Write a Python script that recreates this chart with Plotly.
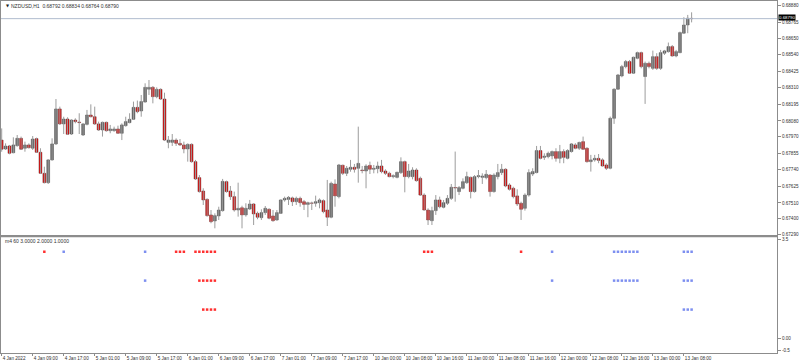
import plotly.graph_objects as go

# ---------------- data (NZDUSD H1) ----------------
opens = [0.67947,0.67885,0.67906,0.67859,0.67908,0.67959,0.67890,0.67913,0.67890,0.67957,
0.67862,0.67716,0.67651,0.67809,0.67920,0.68163,0.68059,0.68093,0.67989,0.68086,
0.68072,0.67982,0.68056,0.68121,0.68109,0.68059,0.68017,0.68070,0.68012,0.68012,
0.68024,0.67994,0.68047,0.68068,0.68091,0.68174,0.68149,0.68211,0.68300,0.68313,
0.68248,0.68299,0.68232,0.67931,0.67931,0.67947,0.67924,0.67913,0.67885,0.67917,
0.67797,0.67686,0.67593,0.67535,0.67427,0.67385,0.67420,0.67457,0.67658,0.67593,
0.67554,0.67461,0.67477,0.67427,0.67468,0.67503,0.67438,0.67408,0.67443,0.67466,
0.67420,0.67392,0.67438,0.67531,0.67535,0.67545,0.67519,0.67542,0.67519,0.67500,
0.67510,0.67508,0.67512,0.67526,0.67461,0.67411,0.67642,0.67554,0.67772,0.67716,
0.67744,0.67758,0.67751,0.67739,0.67732,0.67771,0.67744,0.67748,0.67767,0.67732,
0.67716,0.67693,0.67688,0.67721,0.67797,0.67693,0.67693,0.67739,0.67681,0.67565,
0.67461,0.67387,0.67457,0.67531,0.67480,0.67508,0.67542,0.67617,0.67589,0.67612,
0.67651,0.67688,0.67589,0.67693,0.67688,0.67686,0.67704,0.67589,0.67693,0.67721,
0.67744,0.67635,0.67612,0.67559,0.67508,0.67473,0.67565,0.67711,0.67721,0.67874,
0.67827,0.67832,0.67837,0.67867,0.67820,0.67867,0.67820,0.67867,0.67913,0.67890,
0.67936,0.67890,0.67797,0.67809,0.67820,0.67809,0.67774,0.67751,0.68098,0.68300,
0.68392,0.68457,0.68492,0.68411,0.68515,0.68554,0.68388,0.68480,0.68445,0.68526,
0.68445,0.68550,0.68561,0.68596,0.68531,0.68554,0.68689,0.68746,0.68792]

highs = [0.68028,0.67924,0.67913,0.67966,0.67982,0.67971,0.67936,0.67924,0.67975,0.67964,
0.67890,0.67762,0.67813,0.67959,0.68232,0.68179,0.68109,0.68105,0.68091,0.68098,
0.68133,0.68063,0.68156,0.68195,0.68179,0.68075,0.68075,0.68075,0.68052,0.68040,
0.68047,0.68063,0.68109,0.68133,0.68214,0.68221,0.68260,0.68341,0.68364,0.68322,
0.68313,0.68306,0.68276,0.67975,0.67989,0.67959,0.67954,0.67936,0.67924,0.67924,
0.67809,0.67704,0.67612,0.67542,0.67461,0.67438,0.67484,0.67677,0.67665,0.67628,
0.67589,0.67651,0.67491,0.67508,0.67531,0.67508,0.67450,0.67466,0.67489,0.67473,
0.67461,0.67461,0.67535,0.67554,0.67558,0.67554,0.67554,0.67554,0.67531,0.67519,
0.67519,0.67561,0.67542,0.67535,0.67670,0.67658,0.67674,0.67781,0.67776,0.67767,
0.67809,0.67781,0.68040,0.67767,0.67779,0.67797,0.67774,0.67797,0.67809,0.67744,
0.67727,0.67709,0.67727,0.67827,0.67804,0.67781,0.67758,0.67751,0.67693,0.67577,
0.67473,0.67484,0.67565,0.67554,0.67531,0.67565,0.67642,0.67867,0.67628,0.67681,
0.67727,0.67693,0.67704,0.67739,0.67716,0.67739,0.67711,0.67716,0.67781,0.67781,
0.67751,0.67647,0.67623,0.67605,0.67519,0.67577,0.67744,0.67751,0.67906,0.67906,
0.67855,0.67867,0.67874,0.67890,0.67913,0.67883,0.67883,0.67925,0.67925,0.67936,
0.67971,0.67897,0.67844,0.67844,0.67850,0.67820,0.67786,0.68110,0.68307,0.68406,
0.68469,0.68503,0.68503,0.68526,0.68561,0.68561,0.68492,0.68492,0.68568,0.68550,
0.68573,0.68573,0.68624,0.68607,0.68573,0.68700,0.68800,0.68816,0.68834]

lows = [0.67866,0.67878,0.67848,0.67855,0.67901,0.67878,0.67866,0.67888,0.67878,0.67859,
0.67711,0.67646,0.67642,0.67804,0.67913,0.68052,0.67989,0.67982,0.67982,0.68063,
0.67989,0.67975,0.68049,0.68105,0.68052,0.68010,0.67971,0.68005,0.67994,0.68005,
0.67989,0.67947,0.68040,0.68063,0.68086,0.68133,0.68109,0.68207,0.68260,0.68202,
0.68237,0.68225,0.67940,0.67890,0.67906,0.67906,0.67906,0.67855,0.67797,0.67790,
0.67670,0.67582,0.67496,0.67415,0.67369,0.67334,0.67392,0.67450,0.67582,0.67531,
0.67450,0.67415,0.67334,0.67415,0.67461,0.67357,0.67397,0.67392,0.67427,0.67397,
0.67380,0.67387,0.67434,0.67519,0.67496,0.67489,0.67496,0.67484,0.67461,0.67411,
0.67461,0.67484,0.67473,0.67438,0.67350,0.67404,0.67484,0.67542,0.67704,0.67697,
0.67727,0.67721,0.67651,0.67716,0.67612,0.67711,0.67716,0.67716,0.67716,0.67704,
0.67688,0.67681,0.67681,0.67711,0.67584,0.67681,0.67674,0.67658,0.67559,0.67457,
0.67357,0.67357,0.67427,0.67473,0.67473,0.67496,0.67531,0.67519,0.67565,0.67605,
0.67642,0.67542,0.67582,0.67681,0.67642,0.67674,0.67554,0.67582,0.67674,0.67704,
0.67619,0.67596,0.67542,0.67489,0.67392,0.67457,0.67554,0.67697,0.67716,0.67813,
0.67809,0.67820,0.67813,0.67797,0.67786,0.67786,0.67813,0.67860,0.67883,0.67878,
0.67878,0.67790,0.67728,0.67797,0.67786,0.67763,0.67739,0.67744,0.68059,0.68295,
0.68383,0.68445,0.68406,0.68406,0.68508,0.68445,0.68198,0.68445,0.68434,0.68434,
0.68434,0.68538,0.68554,0.68526,0.68522,0.68550,0.68684,0.68689,0.68764]

closes = [0.67883,0.67905,0.67855,0.67913,0.67959,0.67883,0.67913,0.67894,0.67954,0.67862,
0.67716,0.67651,0.67809,0.67920,0.68163,0.68059,0.68093,0.67987,0.68086,0.68075,
0.68068,0.68059,0.68121,0.68109,0.68059,0.68017,0.68070,0.68012,0.68024,0.68024,
0.67994,0.68052,0.68075,0.68091,0.68174,0.68144,0.68214,0.68313,0.68313,0.68248,
0.68299,0.68232,0.67947,0.67947,0.67947,0.67924,0.67913,0.67885,0.67917,0.67797,
0.67677,0.67589,0.67531,0.67422,0.67380,0.67422,0.67461,0.67660,0.67589,0.67554,
0.67461,0.67473,0.67427,0.67473,0.67503,0.67434,0.67411,0.67443,0.67473,0.67404,
0.67387,0.67443,0.67531,0.67542,0.67549,0.67519,0.67542,0.67512,0.67500,0.67512,
0.67508,0.67519,0.67531,0.67450,0.67411,0.67646,0.67559,0.67774,0.67716,0.67751,
0.67758,0.67744,0.67785,0.67735,0.67767,0.67744,0.67751,0.67767,0.67728,0.67716,
0.67693,0.67700,0.67723,0.67797,0.67693,0.67732,0.67739,0.67665,0.67565,0.67461,
0.67392,0.67457,0.67531,0.67484,0.67512,0.67542,0.67619,0.67614,0.67617,0.67658,
0.67693,0.67589,0.67693,0.67700,0.67697,0.67709,0.67589,0.67704,0.67721,0.67744,
0.67628,0.67605,0.67554,0.67503,0.67466,0.67565,0.67721,0.67728,0.67874,0.67820,
0.67835,0.67855,0.67867,0.67820,0.67867,0.67827,0.67874,0.67920,0.67890,0.67930,
0.67883,0.67797,0.67809,0.67820,0.67806,0.67767,0.67751,0.68098,0.68300,0.68399,
0.68457,0.68492,0.68411,0.68522,0.68554,0.68457,0.68480,0.68457,0.68526,0.68445,
0.68554,0.68566,0.68596,0.68531,0.68561,0.68693,0.68746,0.68793,0.68790]

bid_price = 0.68790
header_text = "NZDUSD,H1  0.68792 0.68834 0.68764 0.68790"
sub_label = "m4 60 3.0000 2.0000 1.0000"

price_ticks = [0.68880,0.68765,0.68650,0.68540,0.68425,0.68310,0.68195,0.68080,
               0.67970,0.67855,0.67740,0.67625,0.67510,0.67400,0.67290]

time_tick_bars = [0,8,16,24,32,40,48,56,64,72,80,88,96,104,112,120,128,136,144,152,160,168,176]
time_tick_labels = ["4 Jan 2022","4 Jan 09:00","4 Jan 17:00","5 Jan 01:00","5 Jan 09:00",
                    "5 Jan 17:00","6 Jan 01:00","6 Jan 09:00","6 Jan 17:00","7 Jan 01:00",
                    "7 Jan 09:00","7 Jan 17:00","10 Jan 00:00","10 Jan 08:00","10 Jan 16:00",
                    "11 Jan 00:00","11 Jan 08:00","11 Jan 16:00","12 Jan 00:00","12 Jan 08:00",
                    "12 Jan 16:00","13 Jan 00:00","13 Jan 08:00"]

# indicator "m4" signals: bar index lists for levels 3, 2, 1
lvl3_red = [11,45,46,47,50,51,52,53,54,55,109,110,111,134]
lvl3_blue = [16,37,142,158,159,160,161,162,163,164,176,177,178]
lvl2_red = [51,52,53,54,55]
lvl2_blue = [37,142,158,159,160,161,162,163,164,176,177,178]
lvl1_red = [52,53,54,55]
lvl1_blue = [176,177,178]

# sub-window scale labels (MT4 prints the range limits just inside the window)
sub_tick_vals = [3.42, 0, -0.42]
sub_tick_text = ["3.5", "0.00", "-0.5"]

# ---------------- figure ----------------
FONT = "Liberation Sans"
TXT = "#303030"
AX = "#8c8c8c"
n = len(opens)
bars = list(range(n))

wx, wy = [], []
for i in bars:
    wx += [i, i, None]
    wy += [lows[i], highs[i], None]

up = [i for i in bars if closes[i] >= opens[i]]
dn = [i for i in bars if closes[i] < opens[i]]
MINH = 0.000008

fig = go.Figure()
fig.add_trace(go.Scatter(x=wx, y=wy, mode="lines", line=dict(color="#9c9c9c", width=1),
                         hoverinfo="skip", xaxis="x", yaxis="y"))
fig.add_trace(go.Bar(x=up, base=[min(opens[i], closes[i]) for i in up],
                     y=[max(abs(closes[i]-opens[i]), MINH) for i in up], width=0.72,
                     marker=dict(color="#646464", line=dict(color="#4a4a4a", width=0.5)),
                     xaxis="x", yaxis="y"))
fig.add_trace(go.Bar(x=dn, base=[min(opens[i], closes[i]) for i in dn],
                     y=[max(abs(closes[i]-opens[i]), MINH) for i in dn], width=0.72,
                     marker=dict(color="#ee0000", line=dict(color="#5a2020", width=0.5)),
                     xaxis="x", yaxis="y"))

for lvl, reds, blues in [(3, lvl3_red, lvl3_blue), (2, lvl2_red, lvl2_blue), (1, lvl1_red, lvl1_blue)]:
    fig.add_trace(go.Scatter(x=reds, y=[lvl]*len(reds), mode="markers",
                             marker=dict(symbol="square", size=2.5, color="#ff3030"),
                             xaxis="x2", yaxis="y2"))
    fig.add_trace(go.Scatter(x=blues, y=[lvl]*len(blues), mode="markers",
                             marker=dict(symbol="square", size=2.5, color="#7d8ff0"),
                             xaxis="x2", yaxis="y2"))

xr = [-0.18, 200.03]
common_ax = dict(showgrid=False, zeroline=False, showline=True, mirror=True,
                 linecolor=AX, linewidth=1, automargin=False)
MAIN_DOM = [0.33523, 1]
SUB_DOM = [0, 0.32898]
fig.update_layout(
    width=800, height=364, margin=dict(l=1, r=23, t=1, b=11),
    paper_bgcolor="white", plot_bgcolor="white", showlegend=False,
    barmode="overlay", font=dict(family=FONT, size=5, color=TXT),
    xaxis=dict(domain=[0, 1], anchor="y", range=xr, showticklabels=False, ticks="", **common_ax),
    yaxis=dict(domain=MAIN_DOM, anchor="x", side="right", range=[0.672876, 0.689126],
               tickvals=price_ticks, ticktext=[f"{v:.5f}" for v in price_ticks],
               ticks="outside", ticklen=3, tickcolor=AX, tickfont=dict(size=4.6, color=TXT),
               **common_ax),
    xaxis2=dict(domain=[0, 1], anchor="y2", range=xr, tickvals=time_tick_bars,
                ticktext=time_tick_labels, ticks="outside", ticklen=2, tickcolor=AX,
                tickangle=0, ticklabelposition="outside right",
                tickfont=dict(size=4.6, color=TXT), **common_ax),
    yaxis2=dict(domain=SUB_DOM, anchor="x2", side="right", range=[-0.5, 3.5],
                tickvals=sub_tick_vals, ticktext=sub_tick_text,
                ticks="outside", ticklen=3, tickcolor=AX, tickfont=dict(size=4.6, color=TXT),
                **common_ax),
)

# thick separator between the price window and the indicator window
fig.add_shape(type="rect", xref="paper", yref="paper", x0=0, x1=1,
              y0=SUB_DOM[1], y1=MAIN_DOM[0], fillcolor="#8c8c8c", line=dict(width=0), layer="above")
fig.add_shape(type="line", xref="x domain", yref="y", x0=0, x1=1, y0=bid_price, y1=bid_price,
              line=dict(color="#b0bccf", width=1))
fig.add_annotation(xref="paper", yref="y", x=1, y=bid_price, xanchor="left", yanchor="middle",
                   text=f"{bid_price:.5f}", showarrow=False, bgcolor="black", height=5,
                   font=dict(color="white", size=4.4, family=FONT), borderpad=0,
                   xshift=1, yshift=1.5)
fig.add_annotation(xref="paper", yref="paper", x=0.004, y=0.9872, xanchor="left", yanchor="middle",
                   text="▼", showarrow=False, font=dict(size=4, color="#202020", family="DejaVu Sans"))
fig.add_annotation(xref="paper", yref="paper", x=0.0105, y=0.9872, xanchor="left", yanchor="middle",
                   text=header_text, showarrow=False, font=dict(size=5, color=TXT, family=FONT))
fig.add_annotation(xref="paper", yref="paper", x=0.0025, y=0.318, xanchor="left", yanchor="middle",
                   text=sub_label, showarrow=False, font=dict(size=5, color=TXT, family=FONT))

fig.write_html("out.html")
